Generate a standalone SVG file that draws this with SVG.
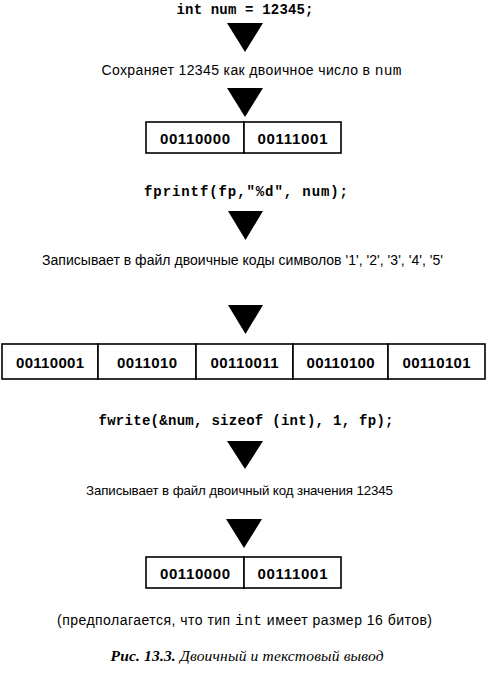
<svg xmlns="http://www.w3.org/2000/svg" width="489" height="682" viewBox="0 0 489 682">
<style>
.code{font-family:"Liberation Mono","Courier New",monospace;font-weight:bold;font-size:14px;fill:#000}
.lbl{font-family:"Liberation Sans",Arial,sans-serif;font-size:14px;fill:#000}
.lbl.s{font-size:13.3px}
.mono{font-family:"Liberation Mono","Courier New",monospace;font-weight:normal;font-size:14.5px}
.bin{font-family:"Liberation Sans",Arial,sans-serif;font-weight:bold;font-size:15px;fill:#000}
.cell{fill:#fff;stroke:#000;stroke-width:1.6}
.tri{fill:#000}
.cap{font-family:"Liberation Serif","Times New Roman",serif;font-style:italic;font-size:15.5px;fill:#000}
</style>
<rect width="489" height="682" fill="#fff"/>
<g id="code1"><text class="code" x="245" y="14" text-anchor="middle" textLength="137">int num = 12345;</text></g>
<g id="label1"><text class="lbl" x="251.5" y="75" text-anchor="middle" textLength="300">Сохраняет 12345 как двоичное число в <tspan class="mono">num</tspan></text></g>
<g id="box1">
<rect class="cell" x="146" y="122" width="98" height="31"/>
<rect class="cell" x="244" y="122" width="97" height="31"/>
<text class="bin" x="195" y="143.5" text-anchor="middle" textLength="70">00110000</text>
<text class="bin" x="292.5" y="143.5" text-anchor="middle" textLength="70">00111001</text>
</g>
<g id="code2"><text class="code" x="246" y="196" text-anchor="middle" textLength="204">fprintf(fp,"%d", num);</text></g>
<g id="label2"><text class="lbl" x="242.5" y="265" text-anchor="middle" textLength="401">Записывает в файл двоичные коды символов '1', '2', '3', '4', '5'</text></g>
<g id="box2">
<rect class="cell" x="2" y="344" width="96" height="35"/>
<rect class="cell" x="98" y="344" width="98" height="35"/>
<rect class="cell" x="196" y="344" width="97" height="35"/>
<rect class="cell" x="293" y="344" width="95" height="35"/>
<rect class="cell" x="388" y="344" width="97" height="35"/>
<text class="bin" x="50" y="367.5" text-anchor="middle" textLength="68">00110001</text>
<text class="bin" x="147" y="367.5" text-anchor="middle" textLength="60">0011010</text>
<text class="bin" x="244.5" y="367.5" text-anchor="middle" textLength="68">00110011</text>
<text class="bin" x="340.5" y="367.5" text-anchor="middle" textLength="68">00110100</text>
<text class="bin" x="436.5" y="367.5" text-anchor="middle" textLength="68">00110101</text>
</g>
<g id="code3"><text class="code" x="246" y="425" text-anchor="middle" textLength="295">fwrite(&amp;num, sizeof (int), 1, fp);</text></g>
<g id="label3"><text class="lbl s" x="239.5" y="495" text-anchor="middle" textLength="307">Записывает в файл двоичный код значения 12345</text></g>
<g id="box3">
<rect class="cell" x="146" y="557" width="98" height="31"/>
<rect class="cell" x="244" y="557" width="97" height="31"/>
<text class="bin" x="195" y="578.5" text-anchor="middle" textLength="70">00110000</text>
<text class="bin" x="292.5" y="578.5" text-anchor="middle" textLength="70">00111001</text>
</g>
<g id="note"><text class="lbl" x="244.5" y="625" text-anchor="middle" textLength="375">(предполагается, что тип <tspan class="mono">int</tspan> имеет размер 16 битов)</text></g>
<g id="caption"><text class="cap" x="247" y="661" text-anchor="middle" textLength="273"><tspan font-weight="bold">Рис. 13.3.</tspan> Двоичный и текстовый вывод</text></g>
<g id="connectors">
<polygon class="tri" points="227,23 263,23 245,52"/>
<polygon class="tri" points="227,88 263,88 245,117"/>
<polygon class="tri" points="228,211 263,211 245.5,240"/>
<polygon class="tri" points="228,305 263,305 245.5,334"/>
<polygon class="tri" points="227,441 263,441 245,469"/>
<polygon class="tri" points="226,519 262,519 244,548"/>
</g>
</svg>
